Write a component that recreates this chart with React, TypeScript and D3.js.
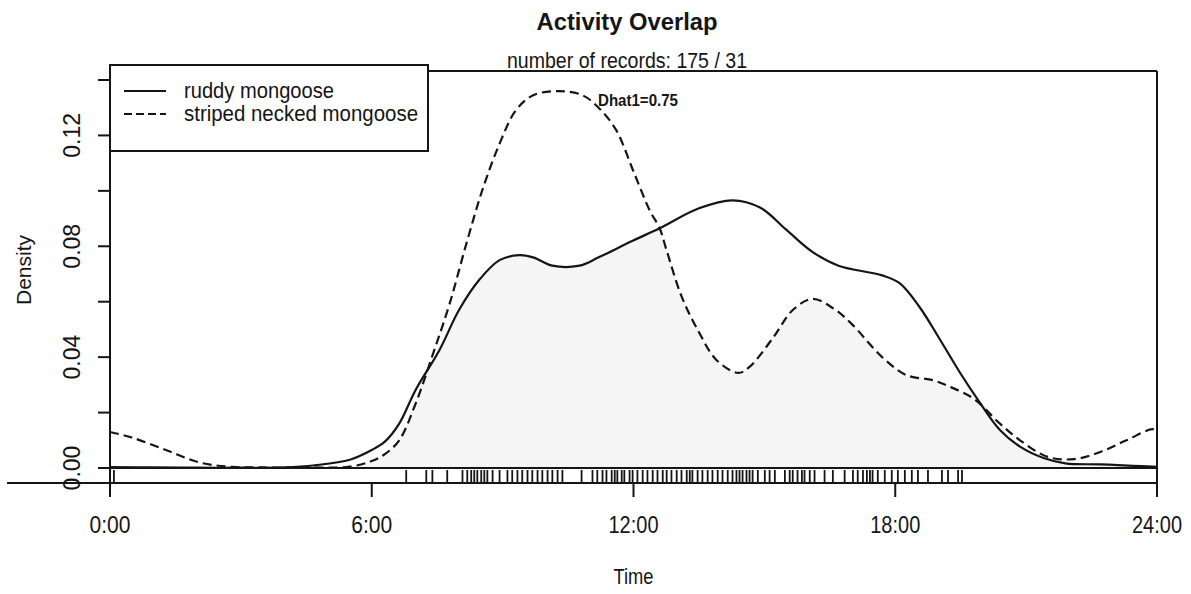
import React from "react";
import * as d3 from "d3";

// ---- data ----
const ruddyHours = [0, 1, 2, 3, 4, 4.7, 5.5, 6.0, 6.3, 6.63, 7.0, 7.55, 8.0, 8.47, 8.93, 9.38, 9.7, 10.14, 10.76, 11.2, 11.98, 12.6, 13.5, 14.27, 14.9, 15.5, 16.1, 16.7, 17.7, 18.1, 18.56, 19.0, 19.5, 19.9, 20.4, 20.86, 21.4, 21.9, 22.7, 23.45, 24];
const ruddyDensity = [0.0003, 0.0002, 0.0001, 0.0001, 0.0002, 0.001, 0.003, 0.0065, 0.0095, 0.016, 0.028, 0.0425, 0.057, 0.068, 0.075, 0.0768, 0.076, 0.073, 0.073, 0.076, 0.082, 0.0865, 0.0937, 0.0966, 0.094, 0.086, 0.078, 0.073, 0.0695, 0.0667, 0.058, 0.047, 0.034, 0.0245, 0.0137, 0.0077, 0.0036, 0.0017, 0.0013, 0.0008, 0.0004];

const stripedHours = [0, 0.5, 1.28, 2.05, 2.8, 3.5, 4.5, 5.5, 6.0, 6.3, 6.63, 7.0, 7.4, 7.78, 8.17, 8.55, 8.93, 9.3, 9.7, 10.3, 10.83, 11.2, 11.6, 12.0, 12.37, 12.6, 12.75, 13.1, 13.5, 13.9, 14.4, 14.66, 15.2, 15.65, 16.1, 16.57, 17.0, 17.7, 18.26, 18.86, 19.3, 19.8, 20.4, 20.86, 21.5, 22.1, 22.7, 23.3, 23.9, 24];
const stripedDensity = [0.013, 0.011, 0.0065, 0.002, 0.0004, 0.0002, 0.0002, 0.0005, 0.0025, 0.005, 0.010, 0.023, 0.041, 0.059, 0.081, 0.101, 0.117, 0.129, 0.1345, 0.136, 0.1345, 0.130, 0.122, 0.107, 0.093, 0.0865, 0.079, 0.062, 0.049, 0.039, 0.0343, 0.0365, 0.047, 0.057, 0.061, 0.0577, 0.052, 0.040, 0.0335, 0.0317, 0.029, 0.025, 0.016, 0.010, 0.004, 0.0032, 0.0058, 0.010, 0.014, 0.013];

const rugTimes = [0.09, 6.79, 7.25, 7.39, 7.73, 8.08, 8.19, 8.28, 8.35, 8.42, 8.51, 8.58, 8.65, 8.77, 8.93, 9.11, 9.22, 9.34, 9.45, 9.57, 9.68, 9.80, 9.91, 10.03, 10.14, 10.26, 10.37, 10.81, 11.06, 11.17, 11.29, 11.38, 11.50, 11.57, 11.63, 11.73, 11.79, 11.91, 11.98, 12.09, 12.21, 12.32, 12.44, 12.55, 12.67, 12.76, 12.87, 12.99, 13.10, 13.22, 13.29, 13.35, 13.47, 13.58, 13.70, 13.81, 13.93, 14.04, 14.16, 14.27, 14.36, 14.43, 14.50, 14.59, 14.66, 14.73, 14.85, 15.01, 15.12, 15.24, 15.47, 15.58, 15.65, 15.76, 15.86, 15.92, 16.04, 16.15, 16.38, 16.57, 16.84, 17.03, 17.14, 17.26, 17.35, 17.42, 17.48, 17.60, 17.76, 17.92, 18.06, 18.22, 18.38, 18.52, 18.75, 19.07, 19.21, 19.44, 19.53];

const xTicks = [0, 6, 12, 18, 24];
const xTickLabels = ["0:00", "6:00", "12:00", "18:00", "24:00"];
const yTicks = [0, 0.02, 0.04, 0.06, 0.08, 0.10, 0.12, 0.14];
const yTickLabels = ["0.00", "", "0.04", "", "0.08", "", "0.12", ""];
const legendLabels = ["ruddy mongoose", "striped necked mongoose"];

const W = 1191, H = 594;
const FONT = "'Liberation Sans', Arial, Helvetica, sans-serif";

export default function App() {
  const x = d3.scaleLinear().domain([0, 24]).range([110, 1157]);
  const y = d3.scaleLinear().domain([0, 0.14]).range([468, 80]);

  const ruddy = ruddyHours.map((h, i) => [h, ruddyDensity[i]] as [number, number]);
  const striped = stripedHours.map((h, i) => [h, stripedDensity[i]] as [number, number]);

  const line = d3.line<[number, number]>().x(d => x(d[0])).y(d => Math.min(y(d[1]), y(0))).curve(d3.curveCatmullRom.alpha(0.5));

  const interp = (hs: number[], ds: number[], t: number) => {
    const i = Math.max(1, d3.bisectLeft(hs, t));
    const j = Math.min(i, hs.length - 1);
    const h0 = hs[i - 1], h1 = hs[j];
    const d0 = ds[i - 1], d1 = ds[j];
    if (h1 === h0) return d0;
    return d0 + (d1 - d0) * (t - h0) / (h1 - h0);
  };
  const grid = d3.range(0, 24.001, 0.05);
  const overlap = grid.map(t => [t, Math.min(interp(ruddyHours, ruddyDensity, t), interp(stripedHours, stripedDensity, t))] as [number, number]);
  const area = d3.area<[number, number]>().x(d => x(d[0])).y0(y(0)).y1(d => y(d[1])).curve(d3.curveMonotoneX);

  const left = x(0), right = x(24), top = 71, bottom = 483;
  const ink = "#151515";

  return (
    <svg width={W} height={H} style={{ position: "absolute", left: 0, top: 0, background: "#fff" }} fontFamily={FONT}>
      <rect x={0} y={0} width={W} height={H} fill="#fff" />
      {/* overlap shading */}
      <path d={area(overlap) || ""} fill="#f5f5f5" stroke="none" />

      {/* curves */}
      <path d={line(ruddy) || ""} fill="none" stroke={ink} strokeWidth={2.2} />
      <path d={line(striped) || ""} fill="none" stroke={ink} strokeWidth={2.2} strokeDasharray="9,5" />

      {/* frame */}
      <line x1={left} x2={right} y1={top} y2={top} stroke={ink} strokeWidth={2} />
      <line x1={right} x2={right} y1={top} y2={493} stroke={ink} strokeWidth={2} />
      <line x1={left} x2={left} y1={top} y2={497} stroke={ink} strokeWidth={2} />
      <line x1={7} x2={right} y1={bottom} y2={bottom} stroke={ink} strokeWidth={2} />
      <line x1={left} x2={right} y1={y(0)} y2={y(0)} stroke={ink} strokeWidth={2} />

      {/* rug */}
      {rugTimes.map((t, i) => (
        <line key={i} x1={x(t)} x2={x(t)} y1={470} y2={bottom} stroke={ink} strokeWidth={1.8} />
      ))}

      {/* x axis */}
      {xTicks.map((t, i) => (
        <g key={i}>
          <line x1={x(t)} x2={x(t)} y1={bottom} y2={497} stroke={ink} strokeWidth={2} />
          <text x={x(t)} y={533} fontSize={24} textAnchor="middle" fill={ink}
            textLength={xTickLabels[i].length > 4 ? 50 : 41} lengthAdjust="spacingAndGlyphs">{xTickLabels[i]}</text>
        </g>
      ))}
      <text x={(left + right) / 2} y={584} fontSize={22} textAnchor="middle" fill={ink} textLength={40} lengthAdjust="spacingAndGlyphs">Time</text>

      {/* y axis */}
      {yTicks.map((t, i) => (
        <g key={i}>
          <line x1={98} x2={left} y1={y(t)} y2={y(t)} stroke={ink} strokeWidth={2} />
          {yTickLabels[i] && (
            <text transform={`translate(80,${y(t)}) rotate(-90)`} fontSize={23} textAnchor="middle" fill={ink}>{yTickLabels[i]}</text>
          )}
        </g>
      ))}
      <text transform={`translate(31,270) rotate(-90)`} fontSize={21} textAnchor="middle" fill={ink}>Density</text>

      {/* titles */}
      <text x={627} y={30} fontSize={24} fontWeight="bold" textAnchor="middle" fill={ink} textLength={181} lengthAdjust="spacingAndGlyphs">Activity Overlap</text>
      <text x={627} y={68} fontSize={22} textAnchor="middle" fill={ink} textLength={240} lengthAdjust="spacingAndGlyphs">number of records: 175 / 31</text>

      {/* Dhat label */}
      <text x={598} y={106} fontSize={17} fontWeight="600" fill={ink} textLength={80} lengthAdjust="spacingAndGlyphs">Dhat1=0.75</text>

      {/* legend */}
      <rect x={left} y={65} width={428 - left} height={86} fill="#fff" stroke={ink} strokeWidth={2} />
      <line x1={124} x2={166} y1={91} y2={91} stroke={ink} strokeWidth={2} />
      <line x1={124} x2={166} y1={114} y2={114} stroke={ink} strokeWidth={2} strokeDasharray="8,4" />
      <text x={184} y={98} fontSize={22} fill={ink} textLength={150} lengthAdjust="spacingAndGlyphs">{legendLabels[0]}</text>
      <text x={184} y={121} fontSize={22} fill={ink} textLength={234} lengthAdjust="spacingAndGlyphs">{legendLabels[1]}</text>
    </svg>
  );
}
